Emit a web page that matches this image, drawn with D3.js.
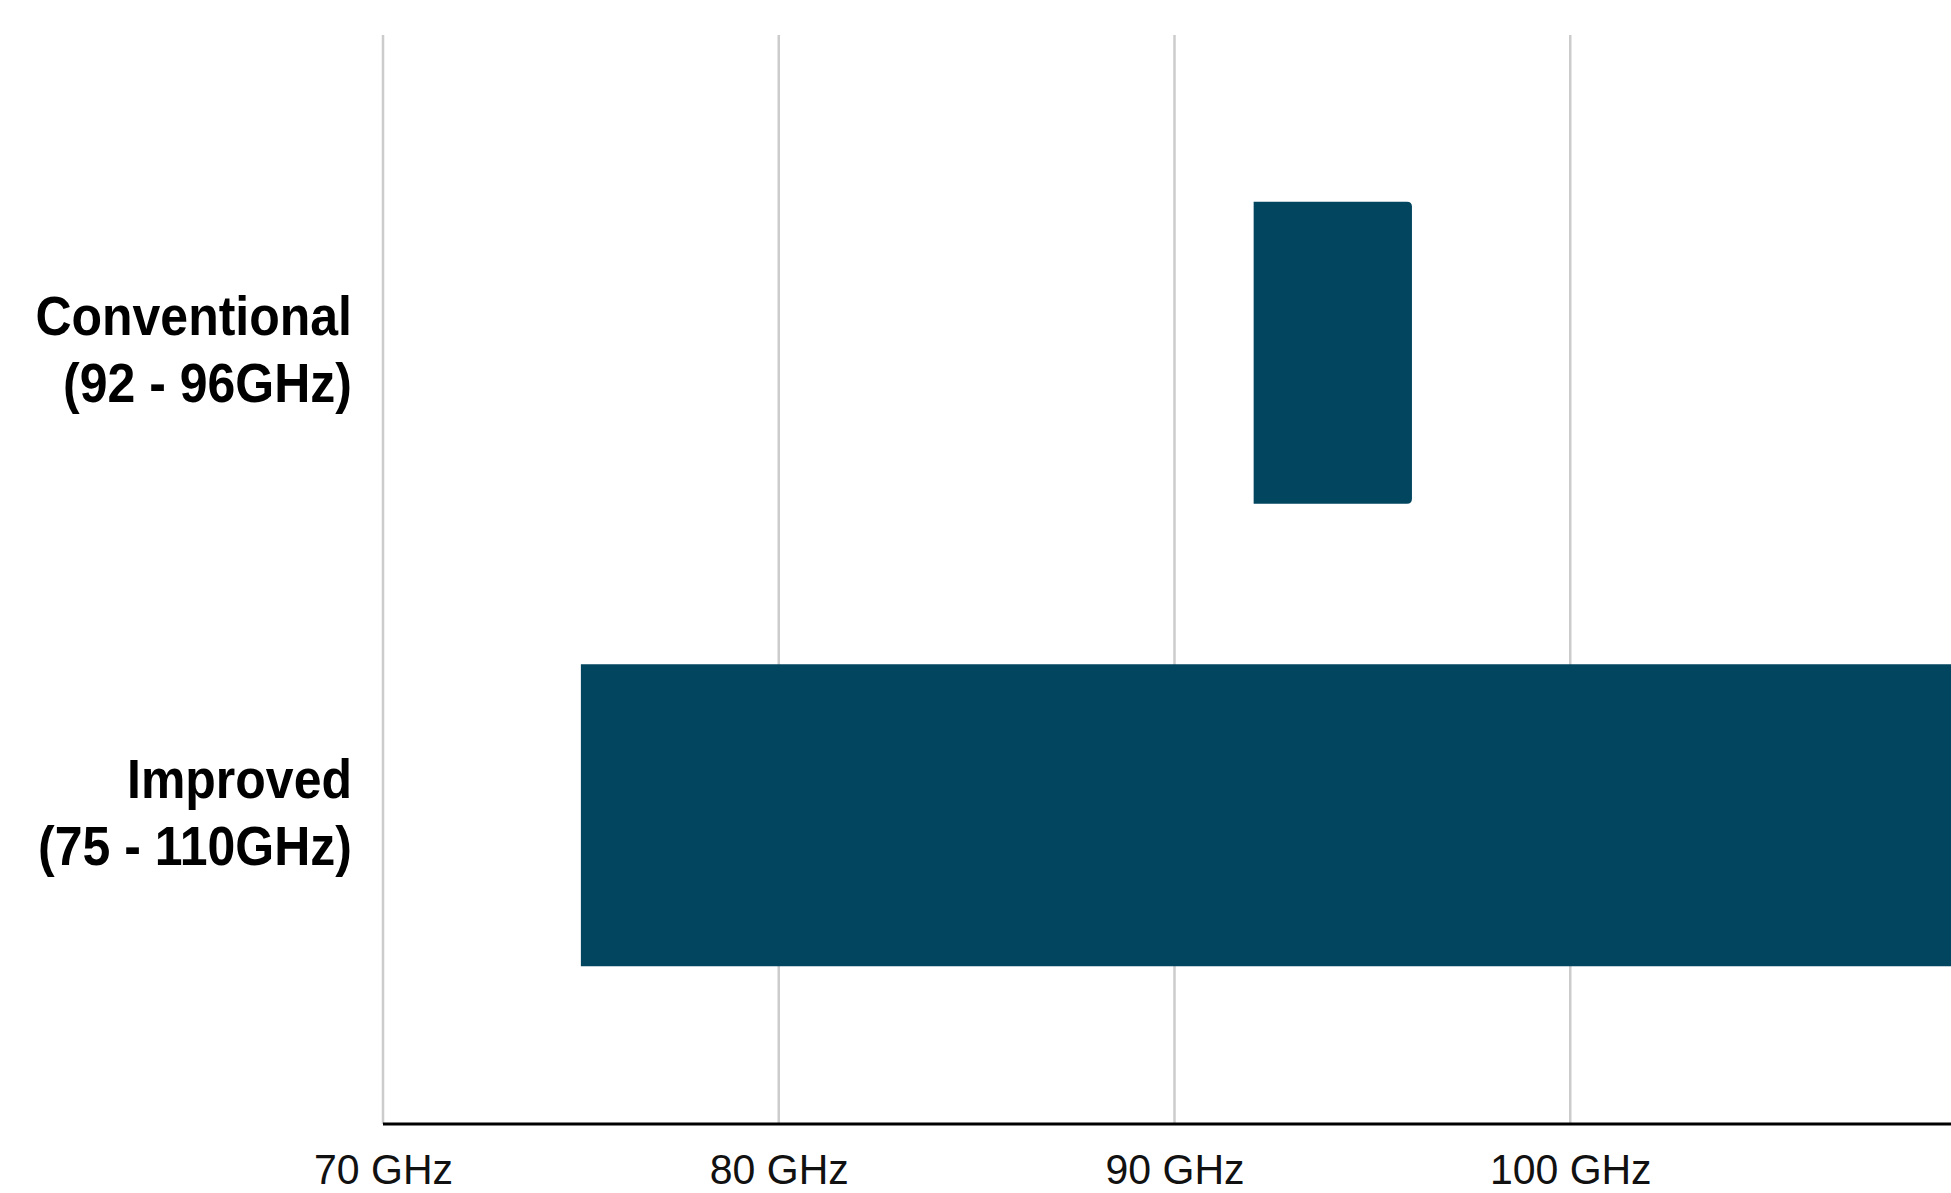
<!DOCTYPE html>
<html>
<head>
<meta charset="utf-8">
<script src="https://cdn.jsdelivr.net/npm/d3@7"></script>
<style>
  html, body { margin: 0; padding: 0; background: #fff; overflow: hidden; }
  svg { display: block; }
</style>
</head>
<body>
<script>
// Frequency coverage of the two front-end designs
const categories = ["Conventional", "Improved"];
const rangeLabels = ["(92 - 96GHz)", "(75 - 110GHz)"];
const startGHz = [92, 75];
const endGHz = [96, 110];
const tickValues = [70, 80, 90, 100];

const W = 1951, H = 1193;
const barColor = "#02455f";
const stretchY = 1.1;

const svg = d3.select("body").append("svg")
  .attr("width", W).attr("height", H);

const x = d3.scaleLinear().domain([70, 110]).range([383, 1966]);
const y = d3.scaleBand().domain(categories)
  .range([44, 1124]).paddingInner(0.347).paddingOuter(0.341);

const axisY = 1124, gridTop = 35;

// vertical grid lines
svg.append("g").selectAll("line").data(tickValues).join("line")
  .attr("x1", d => x(d)).attr("x2", d => x(d))
  .attr("y1", gridTop).attr("y2", axisY)
  .attr("stroke", "#cccccc").attr("stroke-width", 2.5);

// bars with softly rounded right end
function barPath(x0, x1, y0, h, r) {
  return `M${x0},${y0}H${x1 - r}Q${x1},${y0} ${x1},${y0 + r}` +
         `V${y0 + h - r}Q${x1},${y0 + h} ${x1 - r},${y0 + h}H${x0}Z`;
}
const rows = categories.map((c, i) => ({ c, s: startGHz[i], e: endGHz[i], label: rangeLabels[i] }));
svg.append("g").selectAll("path").data(rows).join("path")
  .attr("d", d => barPath(x(d.s), x(d.e), y(d.c), y.bandwidth(), 5))
  .attr("fill", barColor);

// x axis
const xAxis = d3.axisBottom(x).tickValues(tickValues)
  .tickFormat(d => d + " GHz").tickSize(0).tickPadding(0);
const gx = svg.append("g").attr("transform", `translate(0,${axisY})`).call(xAxis);
gx.select(".domain").remove();
gx.append("line").attr("x1", x(70)).attr("x2", W).attr("y1", 0).attr("y2", 0)
  .attr("stroke", "#000").attr("stroke-width", 3);
gx.selectAll(".tick text")
  .attr("y", null).attr("dy", null)
  .attr("transform", `translate(0,60) scale(1,1.05)`)
  .attr("font-family", "'Liberation Sans', Arial, sans-serif")
  .attr("font-size", 41).attr("fill", "#111");

// category labels
const lab = svg.append("g").selectAll("g").data(rows).join("g")
  .attr("transform", d => `translate(352,${y(d.c) + y.bandwidth() / 2}) scale(1,${stretchY})`);
const t = lab.append("text")
  .attr("text-anchor", "end")
  .attr("font-family", "'Liberation Sans', Arial, sans-serif")
  .attr("font-weight", "bold").attr("font-size", 50).attr("fill", "#000");
t.append("tspan").attr("x", 0).attr("y", -16).text(d => d.c);
t.append("tspan").attr("x", 0).attr("y", 45).text(d => d.label);
</script>
</body>
</html>
